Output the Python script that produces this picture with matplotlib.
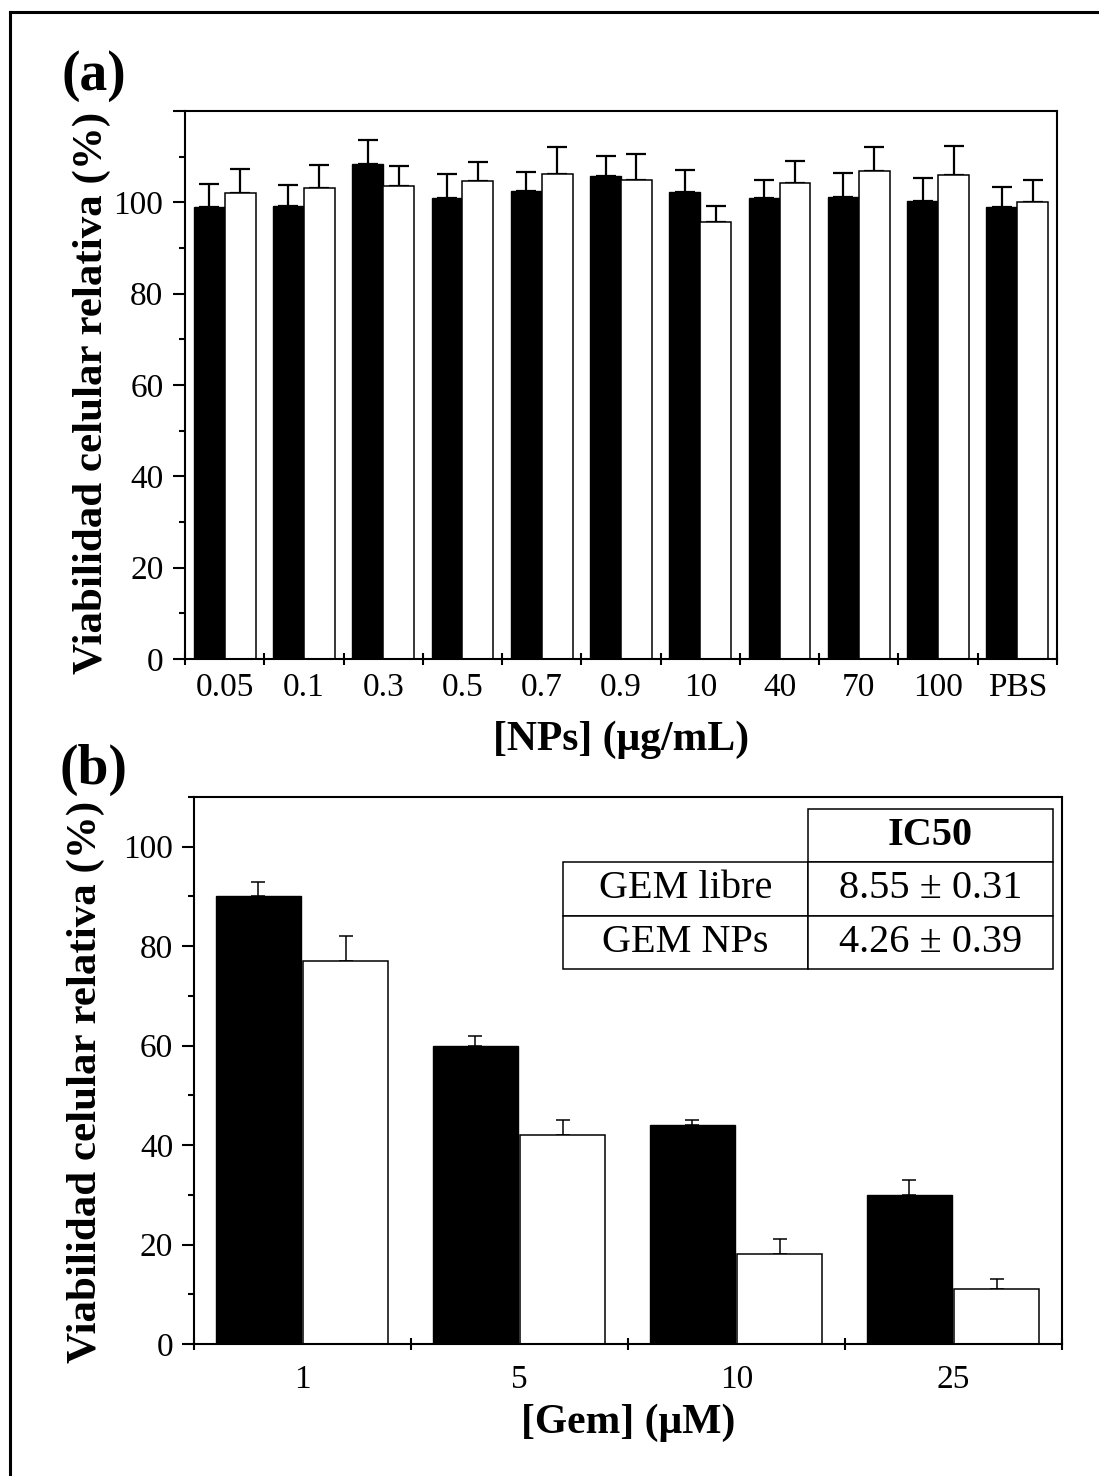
import matplotlib
matplotlib.use('Agg')
import matplotlib.pyplot as plt
from matplotlib.lines import Line2D
import numpy as np

plt.rcParams['font.family'] = ['Liberation Serif', 'DejaVu Serif']

# Panel (a): viability vs nanoparticle concentration
np_conc = ['0.05', '0.1', '0.3', '0.5', '0.7', '0.9', '10', '40', '70', '100', 'PBS']
np_black = [99.0, 99.3, 108.4, 100.9, 102.4, 105.8, 102.2, 100.9, 101.2, 100.3, 99.0]
np_black_err = [5.0, 4.4, 5.2, 5.2, 4.2, 4.4, 4.8, 3.9, 5.2, 5.0, 4.4]
np_white = [102.0, 103.2, 103.6, 104.6, 106.3, 105.0, 95.6, 104.2, 106.8, 106.0, 100.0]
np_white_err = [5.2, 5.0, 4.3, 4.3, 5.8, 5.6, 3.7, 4.9, 5.3, 6.3, 4.9]

# Panel (b): viability vs gemcitabine concentration
gem_conc = ['1', '5', '10', '25']
gem_free = [90, 60, 44, 30]
gem_free_err = [3, 2, 1.1, 3]
gem_nps = [77, 42, 18, 11]
gem_nps_err = [5, 3, 3.1, 2]

# IC50 table
ic50_header = 'IC50'
ic50_rows = ['GEM libre', 'GEM NPs']
ic50_vals = ['8.55 \u00b1 0.31', '4.26 \u00b1 0.39']

W, H = 1099, 1476
fig = plt.figure(figsize=(W / 100, H / 100), dpi=100)


def fx(px):
    return px / W


def fy(py):
    return 1 - py / H


def panel(rect, labels, black, black_err, white, white_err, ylim, bw, b0, w0,
          cap, elw, spine_lw, xpad, ypad):
    ax = fig.add_axes(rect)
    n = len(labels)
    x = np.arange(n)
    ax.bar(x + b0, black, width=bw, align='edge', color='black',
           edgecolor='black', linewidth=1.0, zorder=2)
    ax.bar(x + w0, white, width=bw, align='edge', color='white',
           edgecolor='black', linewidth=1.1, zorder=2)
    zeros = np.zeros(n)
    ax.errorbar(x + b0 + bw / 2, black, yerr=[zeros, black_err], fmt='none',
                ecolor='black', elinewidth=elw, capsize=cap, capthick=elw, zorder=1)
    ax.errorbar(x + w0 + bw / 2, white, yerr=[zeros, white_err], fmt='none',
                ecolor='black', elinewidth=elw, capsize=cap, capthick=elw, zorder=1)
    ax.set_xlim(0, n)
    ax.set_ylim(*ylim)
    ax.set_xticks(np.arange(n + 1))
    ax.set_xticklabels([''] * (n + 1))
    ax.set_xticks(x + 0.5, minor=True)
    ax.set_xticklabels(labels, minor=True, fontsize=24)
    ax.tick_params(axis='x', which='major', direction='inout', length=8,
                   width=spine_lw)
    ax.tick_params(axis='x', which='minor', length=0, pad=xpad)
    top = ylim[1]
    ax.set_yticks(np.arange(0, top + 0.1, 20))
    ax.set_yticklabels([str(v) if v <= 100 else '' for v in range(0, int(top) + 1, 20)],
                       fontsize=24)
    ax.set_yticks(np.arange(10, top + 0.1, 20), minor=True)
    ax.tick_params(axis='y', which='major', direction='out', length=8.5,
                   width=spine_lw, pad=ypad)
    ax.tick_params(axis='y', which='minor', direction='out', length=4.5,
                   width=spine_lw)
    for s in ax.spines.values():
        s.set_linewidth(spine_lw)
    return ax


# Panel (a)
ax_a = panel([fx(185), fy(659), fx(1057) - fx(185), fy(111) - fy(659)],
             np_conc, np_black, np_black_err, np_white, np_white_err,
             (0, 120), 0.39, 0.11, 0.50, 7.5, 1.6, 1.5, 10, 7)

# Panel (b)
ax_b = panel([fx(194), fy(1344), fx(1062) - fx(194), fy(797) - fy(1344)],
             gem_conc, gem_free, gem_free_err, gem_nps, gem_nps_err,
             (0, 110), 0.393, 0.10, 0.503, 5, 1.1, 1.5, 15, 6.5)

# Axis titles
ylab = 'Viabilidad celular relativa (%)'
fig.text(fx(92), fy(393), ylab, rotation=90, ha='center', va='center',
         fontsize=31, fontweight='bold')
fig.text(fx(86), fy(1082), ylab, rotation=90, ha='center', va='center',
         fontsize=31, fontweight='bold')
fig.text(fx(621), fy(740), '[NPs] (\u03bcg/mL)', ha='center', va='center',
         fontsize=30, fontweight='bold')
fig.text(fx(628), fy(1423), '[Gem] (\u03bcM)', ha='center', va='center',
         fontsize=30, fontweight='bold')

# Panel letters
fig.text(fx(94), fy(76), '(a)', ha='center', va='center', fontsize=40,
         fontweight='bold')
fig.text(fx(93), fy(770), '(b)', ha='center', va='center', fontsize=40,
         fontweight='bold')

# IC50 table inside panel (b)
cells = [['', ic50_header],
         [ic50_rows[0], ic50_vals[0]],
         [ic50_rows[1], ic50_vals[1]]]
x0 = (563 - 194) / 868
x1 = (1053 - 194) / 868
y0 = (1344 - 969) / 547
y1 = (1344 - 809) / 547
tbl = ax_b.table(cellText=cells, cellLoc='center',
                 bbox=[x0, y0, x1 - x0, y1 - y0])
tbl.auto_set_font_size(False)
for (r, c), cell in tbl.get_celld().items():
    cell.set_linewidth(1.1)
    cell.set_edgecolor('black')
    cell.get_text().set_fontsize(29)
    if r == 0 and c == 0:
        cell.visible_edges = 'open'
    if r == 0 and c == 1:
        cell.get_text().set_fontweight('bold')

# Outer frame (top and left edges)
fig.add_artist(Line2D([fx(10), 1.0], [fy(12), fy(12)], transform=fig.transFigure,
                      color='black', linewidth=2.2))
fig.add_artist(Line2D([fx(10), fx(10)], [fy(12), 0.0], transform=fig.transFigure,
                      color='black', linewidth=2.2))

fig.savefig('out.png', dpi=100)
